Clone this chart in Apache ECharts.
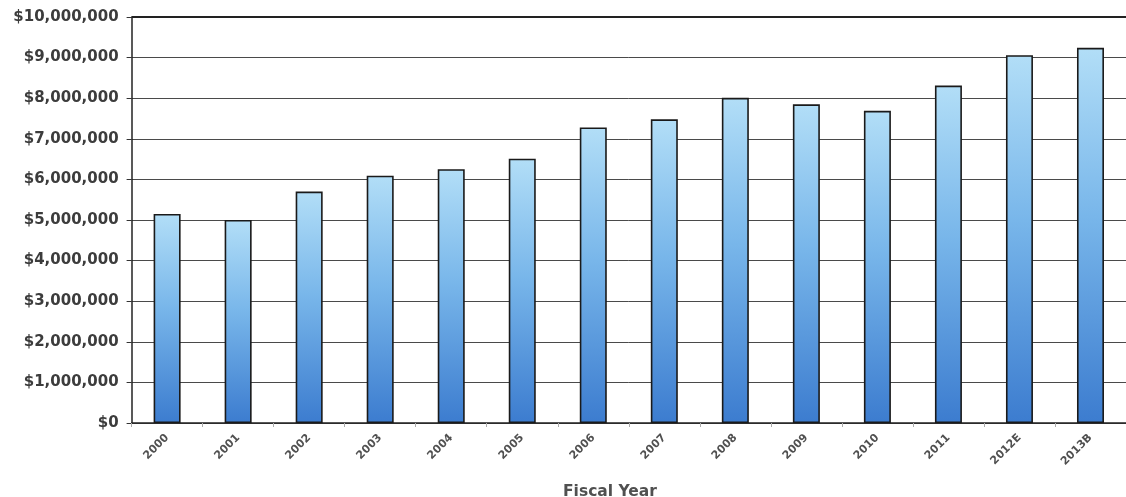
<!DOCTYPE html>
<html>
<head>
<meta charset="utf-8">
<script src="https://cdn.jsdelivr.net/npm/echarts@6/dist/echarts.min.js"></script>
<style>
html,body{margin:0;padding:0;background:#fff;}
#chart{width:1126px;height:497px;}
</style>
</head>
<body>
<div id="chart"></div>
<script>
var categories = ['2000','2001','2002','2003','2004','2005','2006','2007','2008','2009','2010','2011','2012E','2013B'];
var values = [5150000, 5000000, 5700000, 6090000, 6250000, 6510000, 7280000, 7480000, 8010000, 7850000, 7690000, 8310000, 9060000, 9240000];
var yTicks = { min: 0, max: 10000000, interval: 1000000 };

var chart = echarts.init(document.getElementById('chart'));
chart.setOption({
  animation: false,
  backgroundColor: '#fff',
  title: {
    text: 'Fiscal Year',
    left: 558, top: 479,
    textStyle: { fontFamily: 'DejaVu Sans, sans-serif', fontSize: 15.5, fontWeight: 'bold', color: '#505050' }
  },
  grid: { left: 131.6, right: -9.4, top: 17, bottom: 74, containLabel: false },
  xAxis: {
    type: 'category',
    data: categories,
    axisLine: { show: true, lineStyle: { color: '#222', width: 1.5 } },
    axisTick: { show: true, alignWithLabel: false, length: 4, lineStyle: { color: '#aaa' } },
    axisLabel: {
      rotate: 45, margin: 13, interval: 0,
      fontFamily: 'DejaVu Sans, sans-serif', fontSize: 11, fontWeight: 'bold', color: '#505050'
    }
  },
  yAxis: {
    type: 'value',
    min: yTicks.min, max: yTicks.max, interval: yTicks.interval,
    axisLine: { show: true, lineStyle: { color: '#222', width: 1.5 } },
    axisTick: { show: true, length: 5, lineStyle: { color: '#333' } },
    splitLine: { show: true, lineStyle: { color: '#4a4a4a', width: 1 } },
    axisLabel: {
      margin: 13,
      fontFamily: 'DejaVu Sans, sans-serif', fontSize: 15, fontWeight: 'bold', color: '#3c3c3c',
      formatter: function (v) { return '$' + v.toLocaleString('en-US'); }
    }
  },
  series: [{
    type: 'bar',
    data: values,
    barWidth: 27,
    itemStyle: {
      borderColor: '#1a1a1a',
      borderWidth: 1.6,
      color: {
        type: 'linear', x: 0, y: 0, x2: 0, y2: 1,
        colorStops: [
          { offset: 0, color: '#b2def7' },
          { offset: 0.45, color: '#78b6ea' },
          { offset: 1, color: '#3c7ccf' }
        ]
      }
    }
  }],
  graphic: [{
    type: 'line', silent: true, z: 10,
    shape: { x1: 131.6, y1: 17, x2: 1126, y2: 17 },
    style: { stroke: '#222', lineWidth: 2 }
  }]
});
</script>
</body>
</html>
